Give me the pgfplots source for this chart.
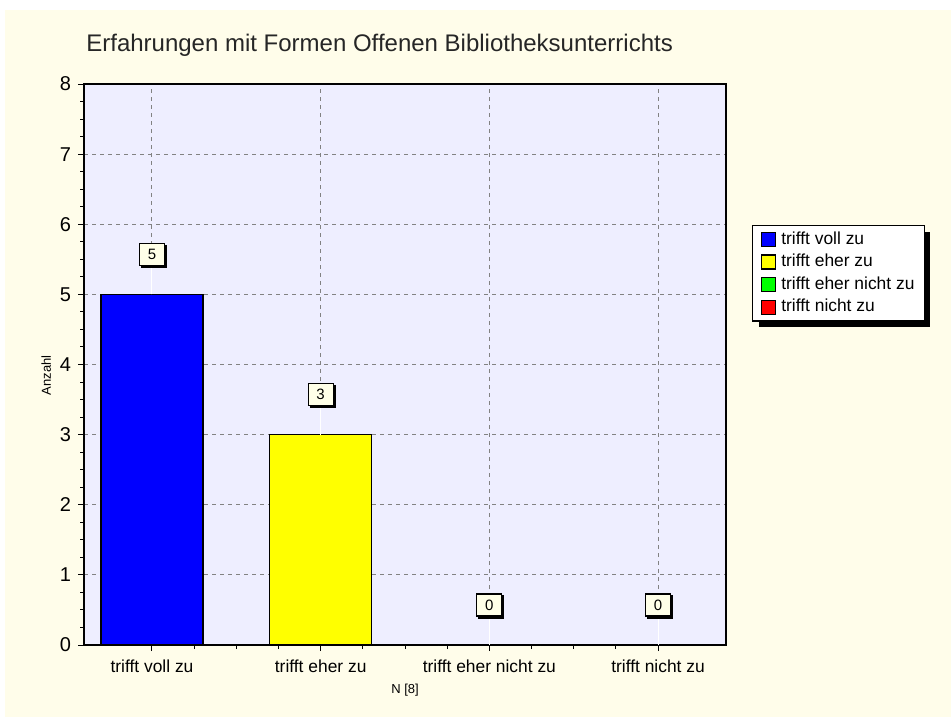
\documentclass[border=0pt]{standalone}
\usepackage{fontspec}
\setmainfont{Liberation Sans}
\usepackage{pgfplots}
\pgfplotsset{compat=1.18}
\usetikzlibrary{shadows}

\definecolor{creme}{RGB}{255,253,234}
\definecolor{lavendel}{RGB}{238,238,255}
\definecolor{boxfill}{RGB}{255,255,232}
\definecolor{gitter}{RGB}{130,130,130}
\definecolor{cblau}{RGB}{0,0,255}
\definecolor{cgelb}{RGB}{255,255,0}
\definecolor{cgruen}{RGB}{0,255,0}
\definecolor{crot}{RGB}{255,0,0}

\makeatletter
\tikzset{no preaction/.code={\let\tikz@preactions\pgfutil@empty}}
\makeatother

\begin{document}
\begin{tikzpicture}
  % 1 px = 0.5pt, canvas 951 x 717 px
  \useasboundingbox (0,0) rectangle (475.5pt,358.5pt);
  \fill[white] (0,0) rectangle (475.5pt,358.5pt);
  \fill[creme] (2.5pt,0) rectangle (475.5pt,353.5pt);
  \begin{axis}[
    at={(42pt,36pt)}, anchor=south west,
    scale only axis, width=321pt, height=280.5pt,
    axis background/.style={fill=lavendel},
    axis line style={black, line width=1pt},
    xmin=-0.403, xmax=3.403, ymin=0, ymax=8,
    xtick={0,1,2,3},
    xticklabels={trifft voll zu, trifft eher zu, trifft eher nicht zu, trifft nicht zu},
    ytick={0,1,...,8},
    minor x tick num=3, minor y tick num=3,
    tick align=outside, tick pos=left,
    major tick length=3pt, minor tick length=2pt,
    every tick/.style={black, line width=0.5pt},
    xmajorgrids, ymajorgrids,
    major grid style={gitter, line width=0.5pt, dash pattern=on 2pt off 2pt},
    x tick label style={font=\fontsize{8.7}{10}\selectfont, yshift=-1pt},
    y tick label style={font=\fontsize{10}{12}\selectfont},
    /pgf/number format/assume math mode=true,
    title={Erfahrungen mit Formen Offenen Bibliotheksunterrichts},
    title style={at={(axis description cs:0.003,1.036)}, anchor=base west,
      inner xsep=0pt, font=\fontsize{12}{14}\selectfont, color=black!85},
    ylabel={Anzahl},
    ylabel style={at={(axis description cs:-0.059,0.481)}, anchor=center,
      font=\fontsize{6.5}{7}\selectfont},
    xlabel={N [8]},
    xlabel style={at={(axis description cs:0.5,-0.080)}, anchor=center,
      font=\fontsize{6.5}{8}\selectfont},
    ybar, bar width=51pt, bar shift=0pt,
    nodes near coords,
    every node near coord/.append style={anchor=center, yshift=20pt,
      draw=black, fill=boxfill, line width=0.6pt,
      font=\fontsize{7.5}{8}\selectfont, minimum width=12.5pt, minimum height=11pt,
      inner sep=1pt,
      drop shadow={shadow xshift=1pt, shadow yshift=-1pt, opacity=1, fill=black}},
    error bars/y dir=plus, error bars/y explicit,
    error bars/error mark=none,
    error bars/error bar style={white, line width=0.5pt},
    legend style={at={(axis description cs:1.0405,0.749)}, anchor=north west,
      draw=black, fill=white, line width=0.7pt,
      font=\fontsize{8.7}{10}\selectfont, row sep=1.5pt,
      inner xsep=4pt, inner ysep=2pt,
      nodes={inner ysep=1pt, inner xsep=1pt},
      cells={anchor=west},
      drop shadow={shadow xshift=3pt, shadow yshift=-3pt, opacity=1, fill=black}},
    legend cell align=left,
    legend image code/.code={
      \draw[#1, no preaction, draw=black, line width=0.6pt] (0pt,-3.5pt) rectangle (7pt,3.5pt);
      \path[no preaction, draw=none, fill=none] (0pt,0pt) -- (9pt,0pt);},
  ]
    \addplot[fill=cblau, draw=black, line width=0.6pt] coordinates {(0,5) +- (0,0.5)};
    \addplot[fill=cgelb, draw=black, line width=0.6pt] coordinates {(1,3) +- (0,0.5)};
    \addplot[fill=cgruen, draw=black, line width=0.6pt] coordinates {(2,0) +- (0,0.5)};
    \addplot[fill=crot, draw=black, line width=0.6pt] coordinates {(3,0) +- (0,0.5)};
    \legend{trifft voll zu, trifft eher zu, trifft eher nicht zu, trifft nicht zu}
  \end{axis}
\end{tikzpicture}
\end{document}
